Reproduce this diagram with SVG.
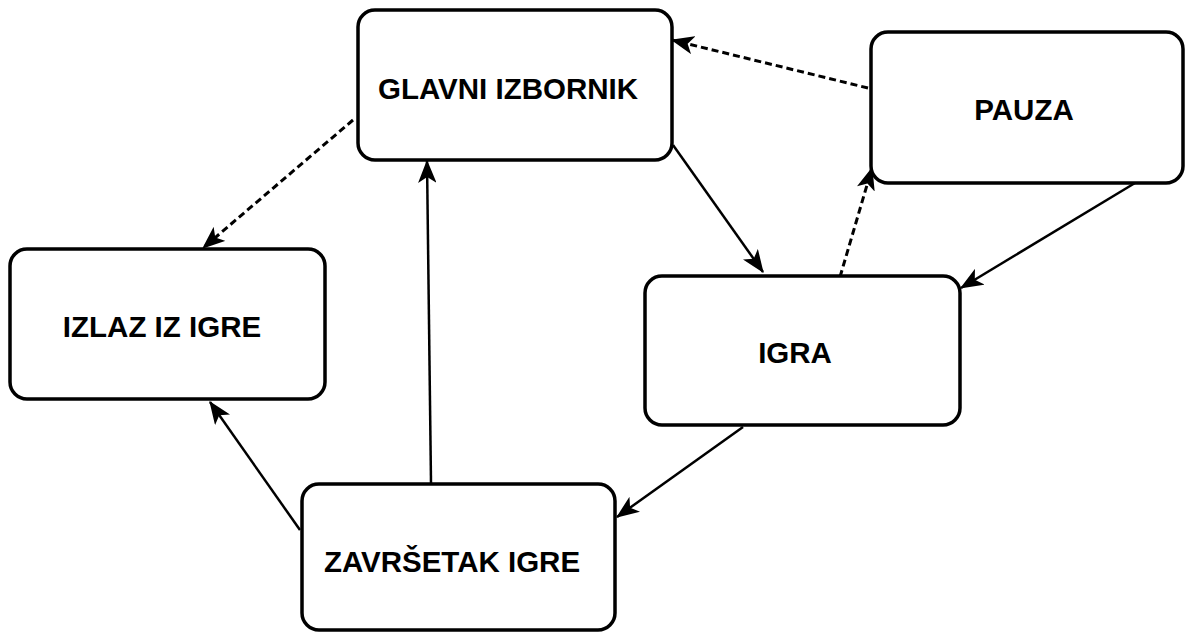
<svg xmlns="http://www.w3.org/2000/svg" width="1186" height="632" viewBox="0 0 1186 632">
<style>
.box{fill:#fff;stroke:#000;stroke-width:3.5}
.lbl{font-family:"Liberation Sans",Arial,sans-serif;font-weight:bold;font-size:29.5px;fill:#000;text-anchor:middle}
.edge{fill:none;stroke:#000;stroke-width:2.5;marker-end:url(#arr)}
.dash{stroke-width:3;stroke-dasharray:7 4}
</style>
<defs>
<marker id="arr" markerUnits="userSpaceOnUse" viewBox="0 0 20 16" refX="19" refY="8" markerWidth="23" markerHeight="18.4" orient="auto">
<path d="M20,8 L0,0 L5,8 L0,16 Z" fill="#000"/>
</marker>
</defs>
<rect width="1186" height="632" fill="#fff"/>
<g id="connectors">
<line class="edge dash" x1="868" y1="88" x2="672" y2="40"/>
<line class="edge dash" x1="353" y1="120" x2="203" y2="248"/>
<line class="edge" x1="673" y1="145" x2="763" y2="272"/>
<line class="edge dash" x1="840" y1="277" x2="872" y2="168"/>
<line class="edge" x1="1135" y1="183" x2="961" y2="288"/>
<line class="edge" x1="743" y1="427" x2="617" y2="517"/>
<line class="edge" x1="431" y1="483" x2="427" y2="161"/>
<line class="edge" x1="300" y1="530" x2="210" y2="402"/>
</g>
<g id="glavni">
<rect class="box" x="358" y="10" width="314" height="150" rx="17"/>
<text class="lbl" x="508" y="99">GLAVNI IZBORNIK</text>
</g>
<g id="pauza">
<rect class="box" x="871" y="32" width="312" height="151" rx="17"/>
<text class="lbl" x="1024" y="120">PAUZA</text>
</g>
<g id="izlaz">
<rect class="box" x="10" y="249" width="315" height="150" rx="17"/>
<text class="lbl" x="162" y="337">IZLAZ IZ IGRE</text>
</g>
<g id="igra">
<rect class="box" x="645" y="276" width="315" height="149" rx="17"/>
<text class="lbl" x="795" y="363">IGRA</text>
</g>
<g id="zavrsetak">
<rect class="box" x="302" y="484" width="313" height="146" rx="17"/>
<text class="lbl" x="452" y="572">ZAVRŠETAK IGRE</text>
</g>
</svg>
